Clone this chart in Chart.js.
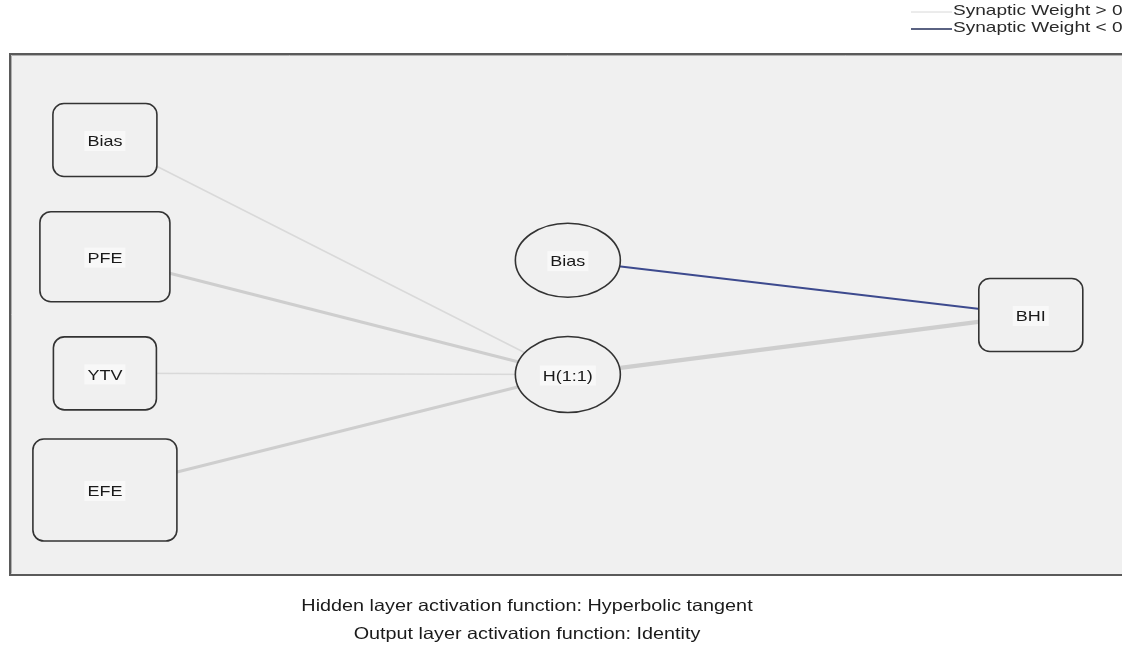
<!DOCTYPE html>
<html><head><meta charset="UTF-8">
<title>Network diagram</title>
<script src="https://cdn.jsdelivr.net/npm/chart.js@4"></script>
<style>
  body{margin:0;background:#fff}
  canvas{display:block}
</style>
</head><body>
<canvas id="chart" width="1122" height="652"></canvas>
<script>
// nodes: layer (x) and row (y) of each unit
const nodeLabels = ["Bias", "PFE", "YTV", "EFE", "Bias", "H(1:1)", "BHI"];
const nodeLayer = [0, 0, 0, 0, 1, 1, 2];
const nodeRow = [4, 3, 2, 1, 2.97, 1.99, 2.5];
// connections and their synaptic weights (estimated from line widths)
const edgeFrom = [0, 1, 2, 3, 4, 5];
const edgeTo = [5, 5, 5, 5, 6, 6];
const synapticWeights = [0.3, 0.6, 0.2, 0.6, -0.4, 0.85];
const legendLabels = ["Synaptic Weight > 0", "Synaptic Weight < 0"];
const captions = ["Hidden layer activation function: Hyperbolic tangent", "Output layer activation function: Identity"];

// node drawing styles (shape, half width, half height in px)
const nodeStyle = [
  {shape: "box", hw: 52, hh: 36.5},
  {shape: "box", hw: 65, hh: 45},
  {shape: "box", hw: 51.5, hh: 36.5},
  {shape: "box", hw: 72, hh: 51},
  {shape: "ellipse", hw: 52.5, hh: 37},
  {shape: "ellipse", hw: 52.5, hh: 38},
  {shape: "box", hw: 52, hh: 36.5}
];
const POS = "#cecece", NEG = "#3d4a8e";
const STRETCH = 1.2;

const datasets = edgeFrom.map((f, i) => {
  const t = edgeTo[i], w = synapticWeights[i];
  return {
    data: [{x: nodeLayer[f], y: nodeRow[f]}, {x: nodeLayer[t], y: nodeRow[t]}],
    showLine: true,
    borderColor: w > 0 ? (Math.abs(w) < 0.4 ? "#d9d9d9" : POS) : NEG,
    borderWidth: Math.max(1.5, Math.abs(w) * 5),
    pointRadius: 0
  };
});

function stretchText(ctx, txt, x, y, align) {
  ctx.save();
  ctx.translate(x, y);
  ctx.scale(STRETCH, 1);
  ctx.textAlign = align;
  ctx.fillText(txt, 0, 0);
  ctx.restore();
}

const diagram = {
  id: "diagram",
  beforeDraw(chart) {
    const {ctx, chartArea: a} = chart;
    ctx.save();
    ctx.fillStyle = "#fff";
    ctx.fillRect(0, 0, chart.width, chart.height);
    ctx.fillStyle = "#f0f0f0";
    ctx.fillRect(a.left, a.top, a.right - a.left + 5, a.bottom - a.top);
    ctx.strokeStyle = "#5a5a5a";
    ctx.lineWidth = 2;
    ctx.strokeRect(a.left, a.top, a.right - a.left + 10, a.bottom - a.top);
    ctx.strokeStyle = "#b0b0b0";
    ctx.lineWidth = 1;
    ctx.beginPath();
    ctx.moveTo(a.left + 1.5, a.bottom - 1.5); ctx.lineTo(a.left + 1.5, a.top + 1.5); ctx.lineTo(a.right + 5, a.top + 1.5);
    ctx.stroke();
    ctx.restore();
  },
  afterDatasetsDraw(chart) {
    const {ctx, scales: {x, y}} = chart;
    ctx.save();
    nodeLabels.forEach((lab, i) => {
      const cx = x.getPixelForValue(nodeLayer[i]), cy = y.getPixelForValue(nodeRow[i]);
      const s = nodeStyle[i];
      ctx.beginPath();
      if (s.shape === "box") {
        ctx.roundRect(cx - s.hw, cy - s.hh, s.hw * 2, s.hh * 2, 11);
      } else {
        ctx.ellipse(cx, cy, s.hw, s.hh, 0, 0, Math.PI * 2);
      }
      ctx.fillStyle = "#f0f0f0";
      ctx.fill();
      ctx.strokeStyle = "#333";
      ctx.lineWidth = 1.6;
      ctx.stroke();
      ctx.font = "15px 'Liberation Sans', Arial, sans-serif";
      const tw = ctx.measureText(lab).width * STRETCH;
      ctx.fillStyle = "#f8f8f8";
      ctx.fillRect(cx - tw / 2 - 3, cy - 9, tw + 6, 20);
      ctx.fillStyle = "#1a1a1a";
      ctx.textBaseline = "middle";
      stretchText(ctx, lab, cx, cy + 2, "center");
    });

    // legend
    ctx.font = "15px 'Liberation Sans', Arial, sans-serif";
    ctx.textBaseline = "middle";
    [POS, NEG].forEach((c, i) => {
      const ly = 11 + i * 17;
      ctx.strokeStyle = i === 0 ? "#d8d8d8" : "#5a6282";
      ctx.lineWidth = i === 0 ? 1 : 2;
      ctx.beginPath();
      ctx.moveTo(911, ly + 1); ctx.lineTo(952, ly + 1);
      ctx.stroke();
      ctx.fillStyle = "#2a2a2a";
      ctx.save();
      ctx.translate(953, ly);
      ctx.scale(1.27, 1);
      ctx.fillText(legendLabels[i], 0, 0);
      ctx.restore();
    });

    // captions
    ctx.font = "16.5px 'Liberation Sans', Arial, sans-serif";
    ctx.fillStyle = "#1a1a1a";
    captions.forEach((t, i) => stretchText(ctx, t, 527, 606 + i * 28, "center"));
    ctx.restore();
  }
};

new Chart(document.getElementById("chart"), {
  type: "scatter",
  data: {datasets},
  options: {
    responsive: false,
    devicePixelRatio: 1,
    animation: false,
    layout: {padding: {left: 10, top: 54, right: 0, bottom: 77}},
    plugins: {legend: {display: false}, tooltip: {enabled: false}},
    scales: {
      x: {type: "linear", min: -0.205, max: 2.197, display: false},
      y: {type: "linear", min: 0.272, max: 4.737, display: false}
    }
  },
  plugins: [diagram]
});
</script>
</body></html>
